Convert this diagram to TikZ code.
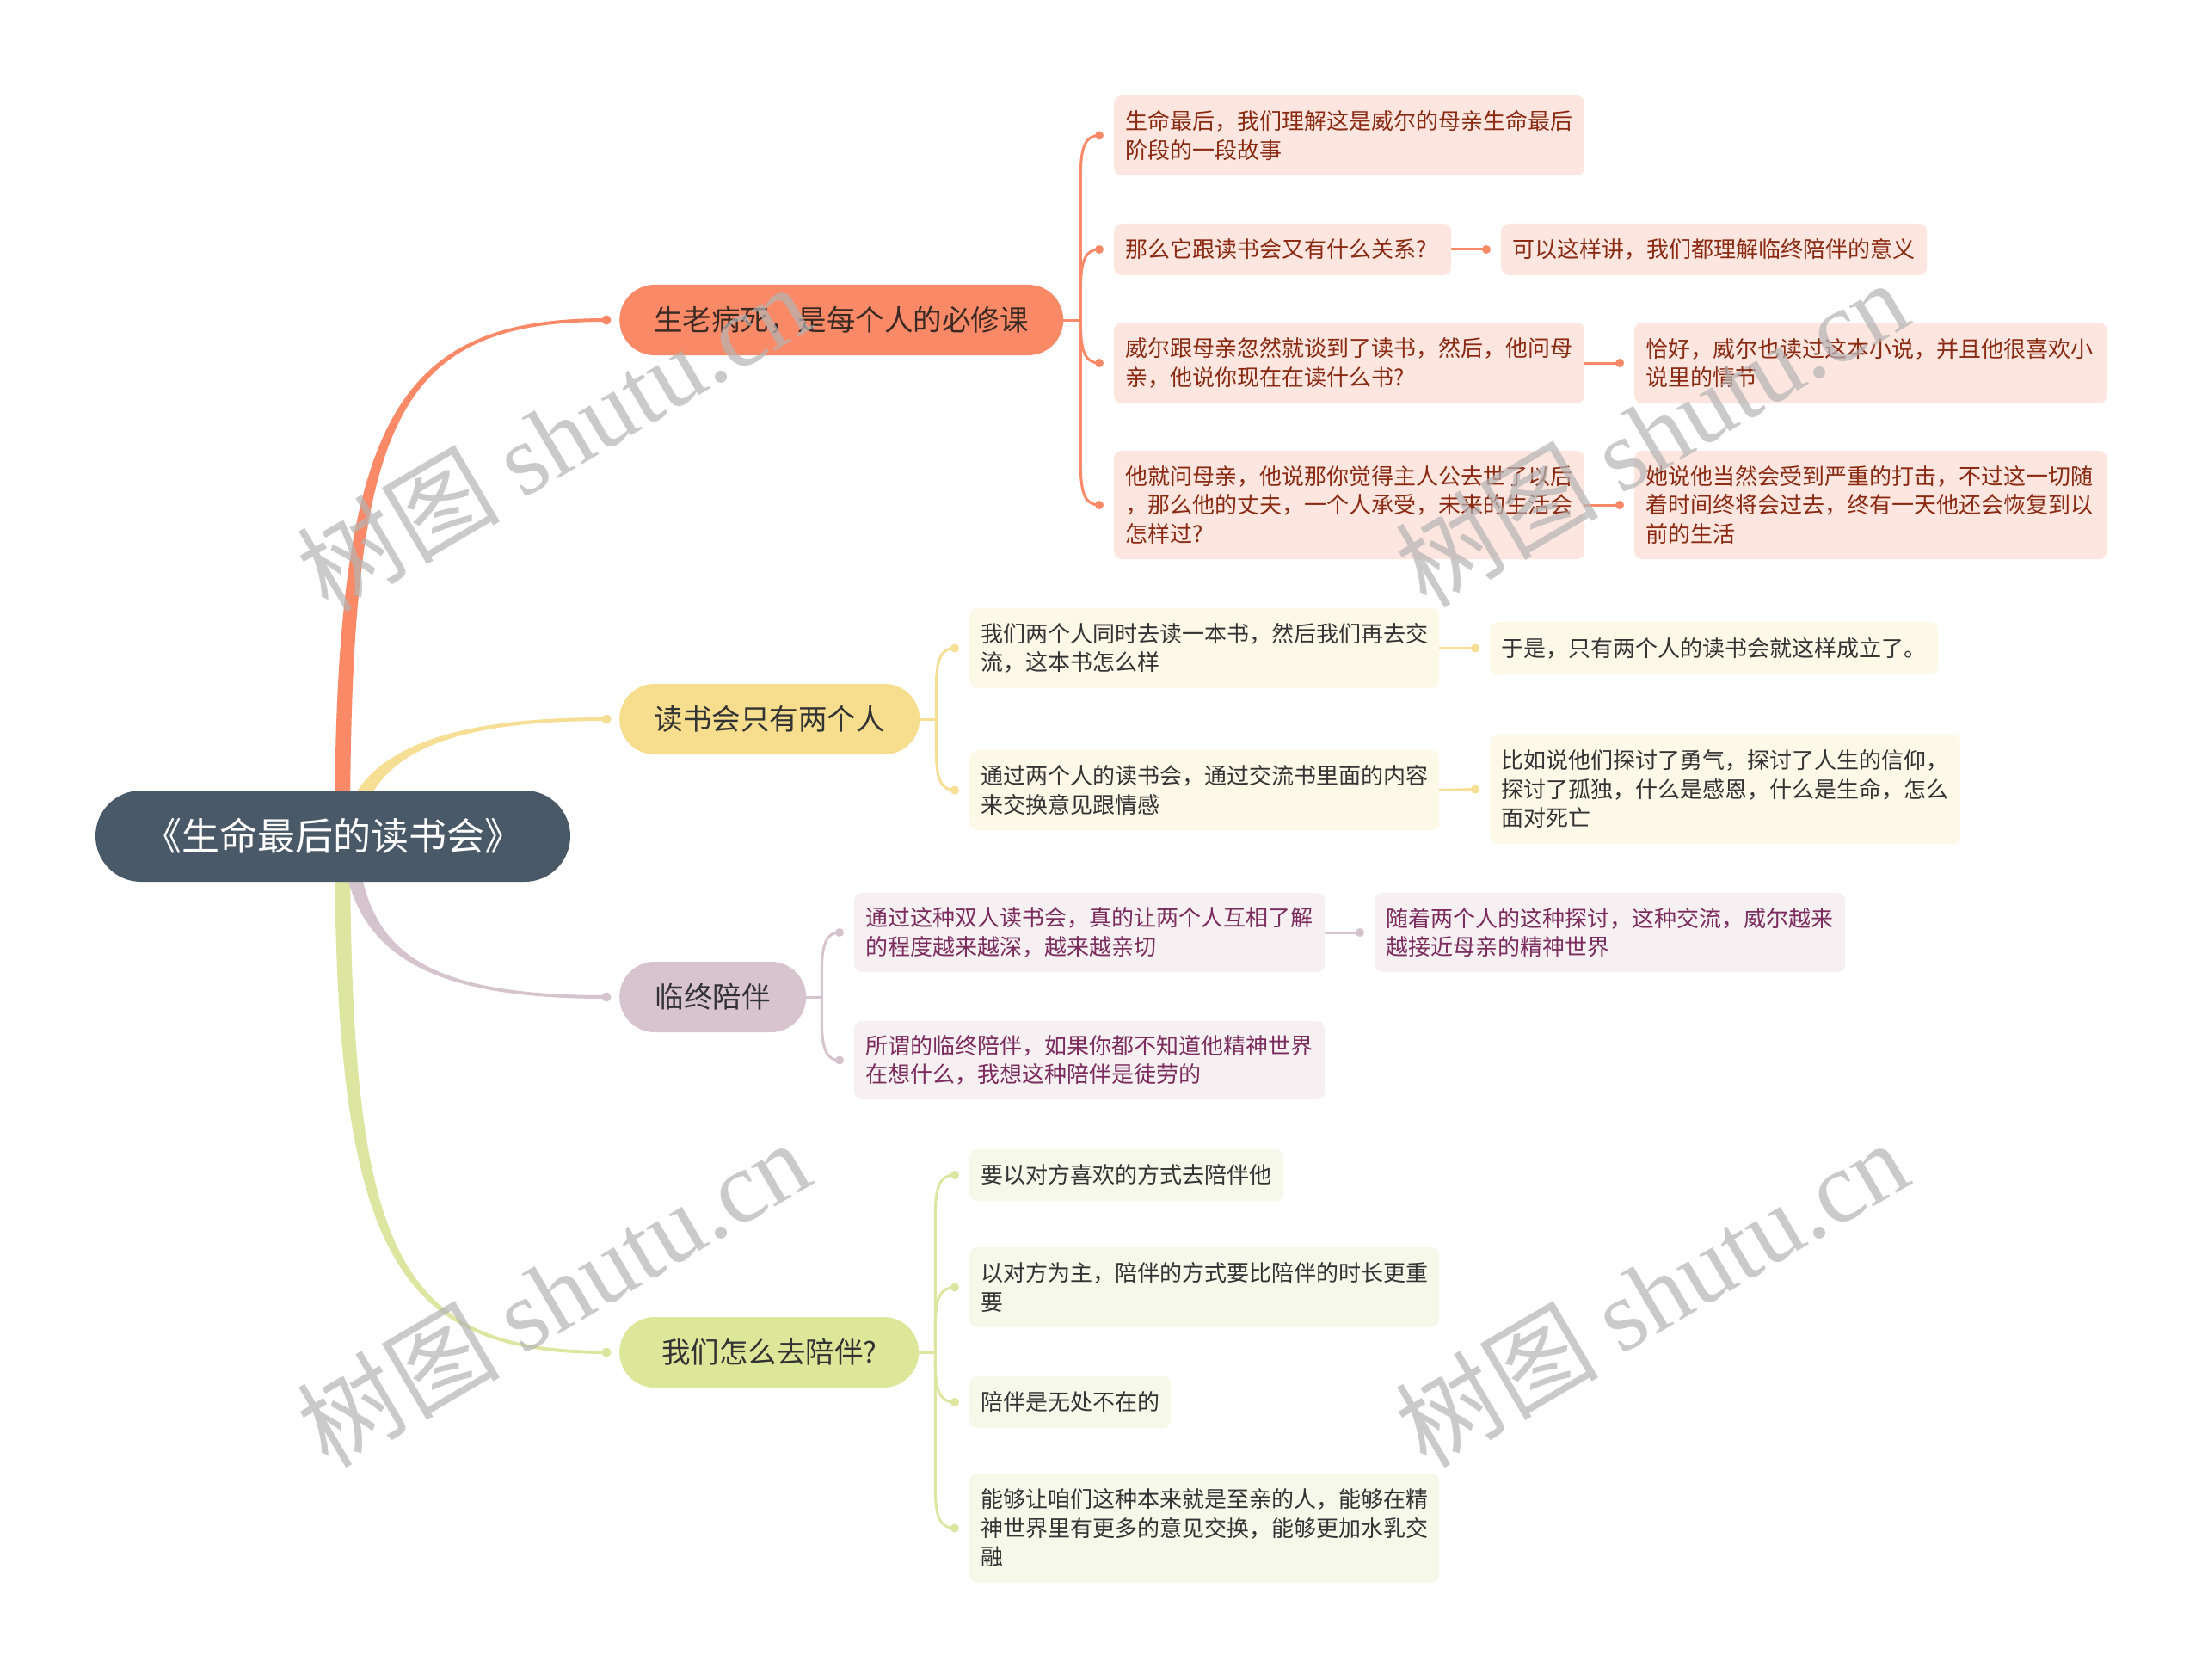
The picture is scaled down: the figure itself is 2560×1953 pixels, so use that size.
\documentclass[tikz,border=0pt]{standalone}
\usepackage{fontspec}
\setmainfont{Noto Sans CJK SC}
\newfontfamily\wmserif{Liberation Serif}
\usetikzlibrary{calc,backgrounds}
\definecolor{rootc}{HTML}{4A5968}
\definecolor{oc}{HTML}{FA8968}
\definecolor{oleaf}{HTML}{FDE6DF}
\definecolor{otext}{HTML}{8A2A12}
\definecolor{otitle}{HTML}{3A2A22}
\definecolor{yc}{HTML}{F6DE8E}
\definecolor{yline}{HTML}{F6DE94}
\definecolor{yleaf}{HTML}{FDF9E9}
\definecolor{pc}{HTML}{D8C4CF}
\definecolor{pline}{HTML}{D5C3CD}
\definecolor{pleaf}{HTML}{F6F0F3}
\definecolor{ptext}{HTML}{7B2C5C}
\definecolor{gc}{HTML}{DCE79A}
\definecolor{gline}{HTML}{DCE6A0}
\definecolor{gleaf}{HTML}{F6F8EA}
\definecolor{dtext}{HTML}{333333}
\definecolor{wm}{HTML}{B4B4B4}
\tikzset{
  leaf/.style={rectangle, rounded corners=9pt, inner xsep=13pt, inner ysep=0pt, align=left, anchor=west, font=\fontsize{26}{33.5}\selectfont},
  lo/.style={leaf, fill=oleaf, text=otext},
  ly/.style={leaf, fill=yleaf, text=dtext},
  lp/.style={leaf, fill=pleaf, text=ptext},
  lg/.style={leaf, fill=gleaf, text=dtext},
  branchbox/.style={rectangle, rounded corners=40.9pt, minimum height=82pt, inner sep=0pt, anchor=west, font=\fontsize{33.5}{40}\selectfont, text=dtext},
  rootbox/.style={rectangle, rounded corners=52.9pt, minimum height=106pt, minimum width=552pt, inner sep=0pt, fill=rootc, text=white, font=\fontsize{44}{50}\selectfont},
  wmk/.style={text=wm, opacity=0.7, rotate=30.5, font=\fontsize{118}{118}\selectfont, inner sep=0pt},
  link/.style={line width=3pt, line cap=round},
}
% bracket connector: #1 colour, #2 junction, #3 leaf node, #4 +1 if leaf above junction, -1 below
\newcommand{\brk}[4]{%
  \draw[link, #1] (#2) -- ($(#2 |- #3.west)+(0,#4*45)$) .. controls ($(#2 |- #3.west)+(0,#4*12)$) and ($(#2 |- #3.west)+(6,0)$) .. ($(#3.west)+(-17,0)$);
  \fill[#1] ($(#3.west)+(-17,0)$) circle (5pt);}
\newcommand{\lnk}[3]{%
  \draw[link, #1] (#2.east) -- ($(#3.west)+(-17,0)$);
  \fill[#1] ($(#3.west)+(-17,0)$) circle (5pt);}
\begin{document}
\begin{tikzpicture}[x=1pt,y=-1pt]
\useasboundingbox (0,0) rectangle (2560,1953);

% root
\node[rootbox] (root) at (387,972) {《生命最后的读书会》};

% branches
\node[branchbox, fill=oc, text=otitle, minimum width=516pt] (b1) at (720,372) {生老病死，是每个人的必修课};
\node[branchbox, fill=yc, minimum width=349pt] (b2) at (720,836) {读书会只有两个人};
\node[branchbox, fill=pc, minimum width=217pt] (b3) at (720,1159) {临终陪伴};
\node[branchbox, fill=gc, minimum width=348pt] (b4) at (720,1572) {我们怎么去陪伴?};

% branch 1 leaves
\node[lo, text width=521pt, minimum height=93pt] (l1a) at (1295,157.5) {生命最后，我们理解这是威尔的母亲生命最后\\阶段的一段故事};
\node[lo, text width=366pt, minimum height=60pt] (l1b) at (1295,290) {那么它跟读书会又有什么关系?};
\node[lo, text width=469pt, minimum height=60pt] (l1b2) at (1745,290) {可以这样讲，我们都理解临终陪伴的意义};
\node[lo, text width=521pt, minimum height=94pt] (l1c) at (1295,422) {威尔跟母亲忽然就谈到了读书，然后，他问母\\亲，他说你现在在读什么书?};
\node[lo, text width=523pt, minimum height=94pt] (l1c2) at (1900,422) {恰好，威尔也读过这本小说，并且他很喜欢小\\说里的情节};
\node[lo, text width=521pt, minimum height=126pt] (l1d) at (1295,587) {他就问母亲，他说那你觉得主人公去世了以后\\，那么他的丈夫，一个人承受，未来的生活会\\怎样过?};
\node[lo, text width=523pt, minimum height=126pt] (l1d2) at (1900,587) {她说他当然会受到严重的打击，不过这一切随\\着时间终将会过去，终有一天他还会恢复到以\\前的生活};

% branch 2 leaves
\node[ly, text width=520pt, minimum height=93pt] (l2a) at (1127,753.5) {我们两个人同时去读一本书，然后我们再去交\\流，这本书怎么样};
\node[ly, text width=495pt, minimum height=61pt] (l2a2) at (1732,753.5) {于是，只有两个人的读书会就这样成立了。};
\node[ly, text width=520pt, minimum height=93pt] (l2b) at (1127,918.5) {通过两个人的读书会，通过交流书里面的内容\\来交换意见跟情感};
\node[ly, text width=521pt, minimum height=127pt] (l2b2) at (1732,917.5) {比如说他们探讨了勇气，探讨了人生的信仰，\\探讨了孤独，什么是感恩，什么是生命，怎么\\面对死亡};

% branch 3 leaves
\node[lp, text width=521pt, minimum height=92pt] (l3a) at (993,1084) {通过这种双人读书会，真的让两个人互相了解\\的程度越来越深，越来越亲切};
\node[lp, text width=521pt, minimum height=92pt] (l3a2) at (1598,1084) {随着两个人的这种探讨，这种交流，威尔越来\\越接近母亲的精神世界};
\node[lp, text width=521pt, minimum height=91pt] (l3b) at (993,1232.5) {所谓的临终陪伴，如果你都不知道他精神世界\\在想什么，我想这种陪伴是徒劳的};

% branch 4 leaves
\node[lg, text width=339pt, minimum height=60pt] (l4a) at (1127,1366) {要以对方喜欢的方式去陪伴他};
\node[lg, text width=520pt, minimum height=93pt] (l4b) at (1127,1496.5) {以对方为主，陪伴的方式要比陪伴的时长更重\\要};
\node[lg, text width=208pt, minimum height=60pt] (l4c) at (1127,1630) {陪伴是无处不在的};
\node[lg, text width=520pt, minimum height=127pt] (l4d) at (1127,1776.5) {能够让咱们这种本来就是至亲的人，能够在精\\神世界里有更多的意见交换，能够更加水乳交\\融};

\begin{pgfonlayer}{background}
\fill[white] (0,0) rectangle (2560,1953);
% root -> branch tapered connectors
\coordinate (rc) at (398,972);
\fill[gline] ($(rc)+(-9,0)$) .. controls ($(rc)+(-9,482)$) and ($(b4.west)+(-263,2)$) .. ($(b4.west)+(-15,2)$) -- ($(b4.west)+(-15,-2)$) .. controls ($(b4.west)+(-263,-2)$) and ($(rc)+(9,482)$) .. ($(rc)+(9,0)$) -- cycle;
\fill[gline] ($(b4.west)+(-15,0)$) circle (5.5pt);
\fill[pline] ($(rc)+(-2,0)$) .. controls ($(rc)+(8,128)$) and ($(b3.west)+(-240,2)$) .. ($(b3.west)+(-15,2)$) -- ($(b3.west)+(-15,-2)$) .. controls ($(b3.west)+(-240,-2)$) and ($(rc)+(26,128)$) .. ($(rc)+(16,0)$) -- cycle;
\fill[pline] ($(b3.west)+(-15,0)$) circle (5.5pt);
\fill[oc] ($(rc)+(-9,0)$) .. controls ($(rc)+(-9,-482)$) and ($(b1.west)+(-263,-2)$) .. ($(b1.west)+(-15,-2)$) -- ($(b1.west)+(-15,2)$) .. controls ($(b1.west)+(-263,2)$) and ($(rc)+(9,-482)$) .. ($(rc)+(9,0)$) -- cycle;
\fill[oc] ($(b1.west)+(-15,0)$) circle (5.5pt);
\fill[yline] ($(rc)+(-3,0)$) .. controls ($(rc)+(12,-92)$) and ($(b2.west)+(-220,-2)$) .. ($(b2.west)+(-15,-2)$) -- ($(b2.west)+(-15,2)$) .. controls ($(b2.west)+(-220,2)$) and ($(rc)+(32,-87)$) .. ($(rc)+(17,0)$) -- cycle;
\fill[yline] ($(b2.west)+(-15,0)$) circle (5.5pt);

% branch brackets
\draw[link, oc] (b1.east) -- ++(20,0) coordinate (j1);
\brk{oc}{j1}{l1a}{1}
\brk{oc}{j1}{l1b}{1}
\brk{oc}{j1}{l1c}{-1}
\brk{oc}{j1}{l1d}{-1}
\draw[link, yline] (b2.east) -- ++(19,0) coordinate (j2);
\brk{yline}{j2}{l2a}{1}
\brk{yline}{j2}{l2b}{-1}
\draw[link, pline] (b3.east) -- ++(18,0) coordinate (j3);
\brk{pline}{j3}{l3a}{1}
\brk{pline}{j3}{l3b}{-1}
\draw[link, gline] (b4.east) -- ++(19,0) coordinate (j4);
\brk{gline}{j4}{l4a}{1}
\brk{gline}{j4}{l4b}{1}
\brk{gline}{j4}{l4c}{-1}
\brk{gline}{j4}{l4d}{-1}

% leaf -> leaf
\lnk{oc}{l1b}{l1b2}
\lnk{oc}{l1c}{l1c2}
\lnk{oc}{l1d}{l1d2}
\lnk{yline}{l2a}{l2a2}
\lnk{yline}{l2b}{l2b2}
\lnk{pline}{l3a}{l3a2}
\end{pgfonlayer}

% watermarks
\node[wmk] (wm1) at (643,508) {树图 {\wmserif shutu.cn}};
\node[wmk] (wm2) at (1920,503) {树图 {\wmserif shutu.cn}};
\node[wmk] (wm3) at (643,1503) {树图 {\wmserif shutu.cn}};
\node[wmk] (wm4) at (1920,1503) {树图 {\wmserif shutu.cn}};
\end{tikzpicture}
\end{document}
